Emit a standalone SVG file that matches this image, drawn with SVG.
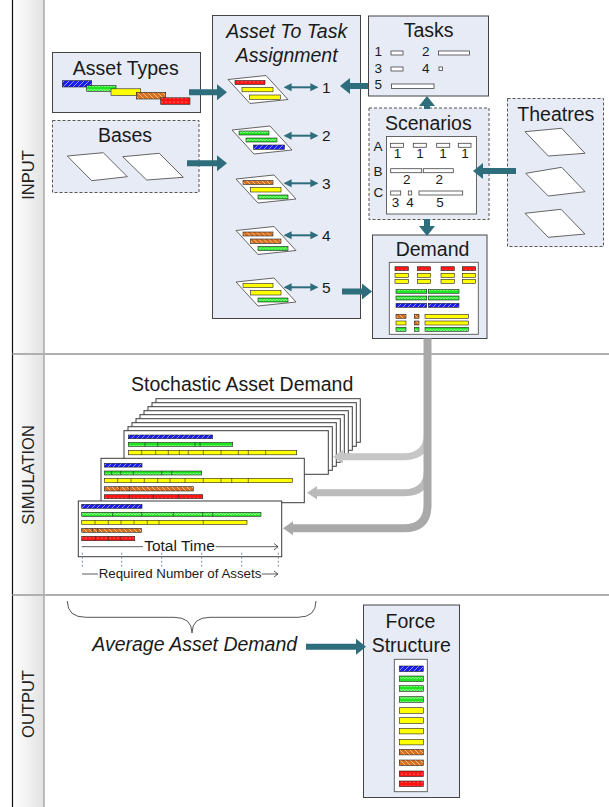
<svg xmlns="http://www.w3.org/2000/svg" width="609" height="807" viewBox="0 0 609 807">
<style>
text{font-family:"Liberation Sans",Arial,sans-serif;fill:#1a1a1a}
.ttl{font-size:19.5px;text-anchor:middle}
.it{font-style:italic}
.sm{font-size:13.5px}
.mid{text-anchor:middle}
.lbl{font-size:16.5px;text-anchor:middle;fill:#222}
.box{fill:#e6ebf5;stroke:#444;stroke-width:1}
.dbox{fill:#e6ebf5;stroke:#555;stroke-width:1;stroke-dasharray:3,2}
.inner{fill:#fff;stroke:#555;stroke-width:0.9}
.para{fill:#fff;stroke:#555;stroke-width:0.9}
.tk{fill:#fff;stroke:#444;stroke-width:0.8}
.page{fill:#fff;stroke:#3a3a3a;stroke-width:1}
.b{stroke:#222;stroke-width:0.6}
.bl{fill:url(#pBlue)}
.gr{fill:url(#pGreen)}
.ye{fill:#ffff00}
.or{fill:url(#pOrange)}
.rd{fill:url(#pRed)}
.div{stroke:#222;stroke-width:0.6}
.teal{fill:#2e6d7c}
.dbl{stroke:#2e6d7c;stroke-width:2;fill:none;marker-start:url(#dh);marker-end:url(#dh)}
.tick{stroke:#6a93a3;stroke-width:1;stroke-dasharray:2,2}
.thin{stroke:#333;stroke-width:0.8;fill:none}
</style>
<defs>
<linearGradient id="colg" x1="0" y1="0" x2="1" y2="0">
<stop offset="0" stop-color="#ffffff"/>
<stop offset="1" stop-color="#e2e2e2"/>
</linearGradient>
<pattern id="pBlue" patternUnits="userSpaceOnUse" width="5" height="5">
<rect width="5" height="5" fill="#1c1cf0"/>
<path d="M0,5 L5,0 M-1,1 L1,-1 M4,6 L6,4" stroke="#9aa8ff" stroke-width="0.9"/>
</pattern>
<pattern id="pOrange" patternUnits="userSpaceOnUse" width="5" height="5">
<rect width="5" height="5" fill="#d9701e"/>
<path d="M0,0 L5,5 M-1,4 L1,6 M4,-1 L6,1" stroke="#f4c9a0" stroke-width="0.9"/>
</pattern>
<pattern id="pGreen" patternUnits="userSpaceOnUse" width="6" height="4">
<rect width="6" height="4" fill="#1ee61e"/>
<path d="M0,3 L1.5,1 L3,3 L4.5,1 L6,3" stroke="#b8ffb8" stroke-width="0.7" fill="none"/>
</pattern>
<pattern id="pRed" patternUnits="userSpaceOnUse" width="4" height="4">
<rect width="4" height="4" fill="#ff1414"/>
<circle cx="2" cy="2" r="0.6" fill="#ffd0d0"/>
</pattern>
<marker id="dh" viewBox="0 0 10 10" refX="2" refY="5" markerWidth="4" markerHeight="4.5" orient="auto-start-reverse" markerUnits="strokeWidth">
<path d="M0,0 L10,5 L0,10 z" fill="#2e6d7c"/>
</marker>
<g id="card">
<polygon class="para" points="0,4 38,0 60,24 22,28"/>
</g>
</defs>

<!-- frame / lanes -->
<g id="lanes">
<rect x="12.5" y="0" width="31.5" height="807" fill="url(#colg)"/>
<line x1="12.5" y1="0" x2="12.5" y2="807" stroke="#111" stroke-width="1.2"/>
<line x1="44" y1="0" x2="44" y2="807" stroke="#a8a8a8" stroke-width="1.5"/>
<line x1="12.5" y1="354" x2="609" y2="354" stroke="#b0b0b0" stroke-width="2"/>
<line x1="12.5" y1="595" x2="609" y2="595" stroke="#b0b0b0" stroke-width="2"/>
<text class="lbl" transform="translate(34,175) rotate(-90)">INPUT</text>
<text class="lbl" transform="translate(34,475) rotate(-90)">SIMULATION</text>
<text class="lbl" transform="translate(34,704) rotate(-90)">OUTPUT</text>
</g>

<g id="asset-types">
<rect class="box" x="52.5" y="52.5" width="148" height="60"/>
<text class="ttl" x="125.8" y="74.5">Asset Types</text>
<rect class="b bl" x="62.3" y="80.7" width="29.4" height="6.3"/>
<rect class="b gr" x="86.7" y="85.5" width="29.3" height="5.8"/>
<rect class="b ye" x="111" y="88.8" width="29.7" height="6.5"/>
<rect class="b or" x="136.3" y="92.3" width="29.4" height="6.7"/>
<rect class="b rd" x="160.7" y="97.8" width="29.3" height="6.5"/>
</g>

<g id="bases">
<rect class="dbox" x="52.5" y="120.5" width="146.5" height="72"/>
<text class="ttl" x="125" y="141.5">Bases</text>
<polygon class="para" points="67.3,156 103.3,152.7 127.3,176.7 91.7,180.7"/>
<polygon class="para" points="122.7,156.7 159.3,153.3 183.3,177.3 146.7,180"/>
</g>

<g id="assignment">
<rect class="box" x="212.5" y="15.5" width="148" height="303"/>
<text class="ttl it" x="286.7" y="37.5">Asset To Task</text>
<text class="ttl it" x="286.7" y="61.5">Assignment</text>
<g transform="translate(228,75.5)">
<use href="#card"/>
<rect class="b rd" x="7" y="5" width="30" height="4"/>
<rect class="b ye" x="14" y="12" width="31" height="4.3"/>
<rect class="b ye" x="21.5" y="19.5" width="31" height="4.3"/>
</g>
<g transform="translate(232,126)">
<use href="#card"/>
<rect class="b gr" x="7" y="5" width="30" height="4"/>
<rect class="b gr" x="14" y="12" width="31" height="4"/>
<rect class="b bl" x="21.5" y="19" width="31" height="4.3"/>
</g>
<g transform="translate(236,175)">
<use href="#card"/>
<rect class="b or" x="7" y="5.5" width="30" height="4"/>
<rect class="b ye" x="14.5" y="12.5" width="30.5" height="4.5"/>
<rect class="b gr" x="22" y="20" width="30" height="4"/>
</g>
<g transform="translate(236,226.5)">
<use href="#card"/>
<rect class="b or" x="7" y="5.5" width="30" height="4"/>
<rect class="b or" x="14.5" y="12.5" width="30.5" height="4.5"/>
<rect class="b gr" x="22" y="20" width="30" height="4"/>
</g>
<g transform="translate(236,278)">
<use href="#card"/>
<rect class="b ye" x="7" y="5.5" width="30" height="4"/>
<rect class="b ye" x="14.5" y="12.5" width="30.5" height="4.5"/>
<rect class="b gr" x="22" y="20" width="30" height="4"/>
</g>
<text x="322" y="92.5" font-size="15.5">1</text>
<text x="322" y="141" font-size="15.5">2</text>
<text x="322" y="188.5" font-size="15.5">3</text>
<text x="322" y="240.5" font-size="15.5">4</text>
<text x="322" y="292.5" font-size="15.5">5</text>
</g>

<g id="tasks">
<rect class="box" x="368.5" y="16" width="120" height="80"/>
<text class="ttl" x="428.7" y="37">Tasks</text>
<text class="sm" x="374.5" y="56">1</text>
<rect class="tk" x="391" y="51" width="12" height="4"/>
<text class="sm" x="422" y="56">2</text>
<rect class="tk" x="438.5" y="51" width="31" height="4"/>
<text class="sm" x="374.5" y="73">3</text>
<rect class="tk" x="391" y="67" width="12" height="4"/>
<text class="sm" x="422" y="73">4</text>
<rect class="tk" x="439" y="67" width="3.5" height="3.5"/>
<text class="sm" x="374.5" y="89">5</text>
<rect class="tk" x="391.5" y="84" width="42.5" height="4.5"/>
</g>

<g id="scenarios">
<rect class="dbox" x="369" y="108" width="120" height="111.5"/>
<text class="ttl" x="428.3" y="130">Scenarios</text>
<rect class="inner" x="386.5" y="136.5" width="90" height="77.5"/>
<text class="sm" x="373.5" y="150.5">A</text>
<text class="sm" x="373.5" y="175.5">B</text>
<text class="sm" x="373.5" y="197">C</text>
<rect class="tk" x="390.5" y="143.3" width="13" height="4"/>
<rect class="tk" x="413.3" y="143.3" width="13" height="4"/>
<rect class="tk" x="436.7" y="143.3" width="13" height="4"/>
<rect class="tk" x="458.3" y="143.3" width="12.7" height="4"/>
<text class="sm mid" x="397.5" y="158.3">1</text>
<text class="sm mid" x="420" y="158.3">1</text>
<text class="sm mid" x="443" y="158.3">1</text>
<text class="sm mid" x="465" y="158.3">1</text>
<rect class="tk" x="390.7" y="168.7" width="31" height="4"/>
<rect class="tk" x="423.3" y="168.7" width="30" height="4"/>
<text class="sm mid" x="406.7" y="184">2</text>
<text class="sm mid" x="439.3" y="184">2</text>
<rect class="tk" x="390.7" y="191" width="10" height="4"/>
<rect class="tk" x="408.3" y="191" width="3.4" height="4"/>
<rect class="tk" x="419" y="191" width="43.7" height="4"/>
<text class="sm mid" x="395.5" y="206.7">3</text>
<text class="sm mid" x="410" y="206.7">4</text>
<text class="sm mid" x="440" y="206.7">5</text>
</g>

<g id="theatres">
<rect class="dbox" x="507.5" y="98.5" width="96" height="148"/>
<text class="ttl" x="555.8" y="120.5">Theatres</text>
<polygon class="para" points="525,131.7 561.7,128.3 585,153.3 548.3,156"/>
<polygon class="para" points="525.7,173.3 561.7,167.3 585,191.7 548.3,196"/>
<polygon class="para" points="525,213.3 561,209.3 585,234 548.3,237.3"/>
</g>

<g id="demand">
<rect class="box" x="372.5" y="235" width="114.5" height="103.5"/>
<text class="ttl" x="432.5" y="256">Demand</text>
<rect class="inner" x="389.3" y="262.3" width="89" height="72"/>
<rect class="b rd" x="395" y="266.7" width="13.3" height="4"/>
<rect class="b rd" x="417.3" y="266.7" width="13.4" height="4"/>
<rect class="b rd" x="441" y="266.7" width="13.3" height="4"/>
<rect class="b rd" x="462.3" y="266.7" width="13.4" height="4"/>
<rect class="b ye" x="395" y="273.3" width="13.3" height="4"/>
<rect class="b ye" x="417.3" y="273.3" width="13.4" height="4"/>
<rect class="b ye" x="441" y="273.3" width="13.3" height="4"/>
<rect class="b ye" x="462.3" y="273.3" width="13.4" height="4"/>
<rect class="b ye" x="395" y="279.3" width="13.3" height="4"/>
<rect class="b ye" x="417.3" y="279.3" width="13.4" height="4"/>
<rect class="b ye" x="441" y="279.3" width="13.3" height="4"/>
<rect class="b ye" x="462.3" y="279.3" width="13.4" height="4"/>
<rect class="b gr" x="396" y="289.3" width="30.7" height="4"/>
<rect class="b gr" x="428.3" y="289.3" width="30.7" height="4"/>
<rect class="b gr" x="396" y="296" width="30.7" height="4"/>
<rect class="b gr" x="428.3" y="296" width="30.7" height="4"/>
<rect class="b bl" x="396" y="303.3" width="30.7" height="4"/>
<rect class="b bl" x="428.3" y="303.3" width="30.7" height="4"/>
<rect class="b or" x="396" y="314.3" width="10" height="4"/>
<rect class="b or" x="414.3" y="314.3" width="4.7" height="4"/>
<rect class="b ye" x="425" y="314.3" width="43.3" height="4"/>
<rect class="b ye" x="396" y="321" width="10" height="4"/>
<rect class="b or" x="414.3" y="321" width="4.7" height="4"/>
<rect class="b ye" x="425" y="321" width="43.3" height="4"/>
<rect class="b gr" x="396" y="327.3" width="10" height="4"/>
<rect class="b gr" x="414.3" y="327.3" width="4.7" height="4"/>
<rect class="b gr" x="425" y="327.3" width="43.3" height="4"/>
</g>

<g id="stochastic-demand">
<text class="ttl" x="242.2" y="390.5">Stochastic Asset Demand</text>
<rect class="page" x="156" y="398.7" width="204.3" height="43.6"/>
<rect class="page" x="152" y="402.7" width="204.3" height="43.6"/>
<rect class="page" x="148" y="406.7" width="204.3" height="43.6"/>
<rect class="page" x="144" y="410.7" width="204.3" height="43.6"/>
<rect class="page" x="140" y="414.7" width="204.3" height="43.6"/>
<rect class="page" x="136" y="418.7" width="204.3" height="43.6"/>
<rect class="page" x="132" y="422.7" width="204.3" height="43.6"/>
<rect class="page" x="128" y="426.7" width="204.3" height="43.6"/>
<rect class="page" x="124" y="430.7" width="204.3" height="43.6"/>
<rect class="b bl" x="128.3" y="435" width="84.4" height="3.7"/>
<rect class="b gr" x="128.3" y="442.3" width="104.4" height="4.2"/>
<rect class="b ye" x="128.3" y="450.3" width="168.4" height="4.5"/>
<path class="div" d="M141.7,450.3v4.5M155.7,450.3v4.5M168.3,450.3v4.5M179.3,450.3v4.5M188.3,450.3v4.5M203.3,450.3v4.5M221,450.3v4.5M238.3,450.3v4.5M248.3,450.3v4.5M265.7,450.3v4.5M145,442.3v4.2M157.7,442.3v4.2M195,442.3v4.2M200,442.3v4.2"/>

<rect class="page" x="101" y="458.3" width="203.3" height="44.4"/>
<rect class="b bl" x="104.3" y="463.3" width="37.7" height="3.8"/>
<rect class="b gr" x="104.3" y="471" width="97.4" height="4"/>
<rect class="b ye" x="104.3" y="478.3" width="188" height="4.4"/>
<rect class="b or" x="104.3" y="486.7" width="89" height="4.3"/>
<rect class="b rd" x="104.3" y="494.7" width="98.4" height="4"/>
<path class="div" d="M117.7,478.3v4.4M131,478.3v4.4M144.3,478.3v4.4M157.7,478.3v4.4M170,478.3v4.4M185,478.3v4.4M203.3,478.3v4.4M221,478.3v4.4M231.7,478.3v4.4M248.3,478.3v4.4M111.7,471v4M120.7,471v4M133.3,471v4M161.7,471v4M171.7,471v4M119.3,486.7v4.3M129.3,486.7v4.3M129.3,494.7v4M153.3,494.7v4M178.3,494.7v4"/>

<rect class="page" x="78.3" y="501" width="203.4" height="55.7"/>
<rect class="b bl" x="81.7" y="504.3" width="60.3" height="4"/>
<rect class="b gr" x="81.7" y="512.3" width="179.3" height="4"/>
<rect class="b ye" x="81.7" y="520.3" width="165.3" height="4"/>
<rect class="b or" x="81.7" y="528.3" width="59.6" height="4"/>
<rect class="b rd" x="81.7" y="536.3" width="53" height="4.4"/>
<path class="div" d="M95,520.3v4M108.3,520.3v4M121,520.3v4M134,520.3v4M147.3,520.3v4M159,520.3v4M203.3,520.3v4M112.7,512.3v4M141.7,512.3v4M173.3,512.3v4M202.7,512.3v4M212.7,512.3v4M92.3,528.3v4M97.7,528.3v4M95,536.3v4.4M108.3,536.3v4.4M121,536.3v4.4"/>
<text class="mid" x="179.5" y="551" font-size="15.5" fill="#222">Total Time</text>
<path class="thin" d="M81.7,546.7H143M215.7,546.7H278M274,543.5L278,546.7L274,550"/>
<path class="tick" d="M82.3,552.7V566.7M121.7,552.7V566.7M161.7,552.7V566.7M201.7,552.7V566.7M241.7,552.7V566.7M278.3,552.7V566.7"/>
<text class="mid" x="180" y="578" font-size="13.3" fill="#222">Required Number of Assets</text>
<path class="thin" d="M82,574H98M261.7,574H278M274,571L278,574L274,577"/>
</g>

<g id="average-demand">
<path d="M67.3,601 Q67.3,617.3 86,617.3 L174,617.3 Q192,617.3 192,633 Q192,617.3 210,617.3 L298,617.3 Q316,617.3 316,601" fill="none" stroke="#555" stroke-width="1"/>
<text class="ttl it" x="194.7" y="651" font-size="20">Average Asset Demand</text>
</g>

<g id="force-structure">
<rect class="box" x="363.5" y="605" width="96" height="192.5"/>
<text class="ttl" x="410.5" y="627.5">Force</text>
<text class="ttl" x="411.2" y="651.5">Structure</text>
<rect class="inner" x="394.3" y="659.3" width="33" height="132.4"/>
<rect class="b bl" x="399.3" y="666" width="24" height="5.6"/>
<rect class="b gr" x="399.3" y="676" width="24" height="5.6"/>
<rect class="b gr" x="399.3" y="685.7" width="24" height="5.6"/>
<rect class="b gr" x="399.3" y="696.7" width="24" height="5.6"/>
<rect class="b ye" x="399.3" y="707.7" width="24" height="5.6"/>
<rect class="b ye" x="399.3" y="717.7" width="24" height="5.6"/>
<rect class="b ye" x="399.3" y="728.3" width="24" height="5.6"/>
<rect class="b ye" x="399.3" y="739.3" width="24" height="5.6"/>
<rect class="b or" x="399.3" y="749.3" width="24" height="5.6"/>
<rect class="b or" x="399.3" y="760" width="24" height="5.6"/>
<rect class="b rd" x="399.3" y="771" width="24" height="5.6"/>
<rect class="b rd" x="399.3" y="781" width="24" height="5.6"/>
</g>

<g id="connectors">
<path d="M427.5,433 Q427.5,456.7 404,456.7 H342" fill="none" stroke="#c6c6c6" stroke-width="7"/>
<polygon points="333,456.7 343,450 343,463.4" fill="#c6c6c6"/>
<path d="M427.5,470 Q427.5,492.7 404,492.7 H316" fill="none" stroke="#bababa" stroke-width="7"/>
<polygon points="307,492.7 317,486 317,499.4" fill="#bababa"/>
<path d="M427.5,338.5 V505 Q427.5,528.3 404,528.3 H292" fill="none" stroke="#a9a9a9" stroke-width="8"/>
<polygon points="283,528.3 293,521.3 293,535.3" fill="#a9a9a9"/>

<polygon class="teal" points="189,89.3 217,89.3 217,84.3 227,92.3 217,100.3 217,95.3 189,95.3"/>
<polygon class="teal" points="187,160.3 217,160.3 217,155.3 227,163.3 217,171.3 217,166.3 187,166.3"/>
<polygon class="teal" points="368,83 350,83 350,78 340,86 350,94 350,89 368,89"/>
<polygon class="teal" points="342,288.5 362,288.5 362,283.5 372,291.5 362,299.5 362,294.5 342,294.5"/>
<polygon class="teal" points="424,109 424,106 419,106 427,96 435,106 430,106 430,109"/>
<polygon class="teal" points="516,168 483,168 483,163 473,171 483,179 483,174 516,174"/>
<polygon class="teal" points="424,219 424,226 419,226 427,236 435,226 430,226 430,219"/>
<polygon class="teal" points="306,643.7 356,643.7 356,638.7 366,646.7 356,654.7 356,649.7 306,649.7"/>

<path class="dbl" d="M290,87.3 H312"/>
<path class="dbl" d="M290,135.7 H312"/>
<path class="dbl" d="M290,183.3 H312"/>
<path class="dbl" d="M290,235.3 H312"/>
<path class="dbl" d="M290,287.3 H312"/>
</g>
</svg>
